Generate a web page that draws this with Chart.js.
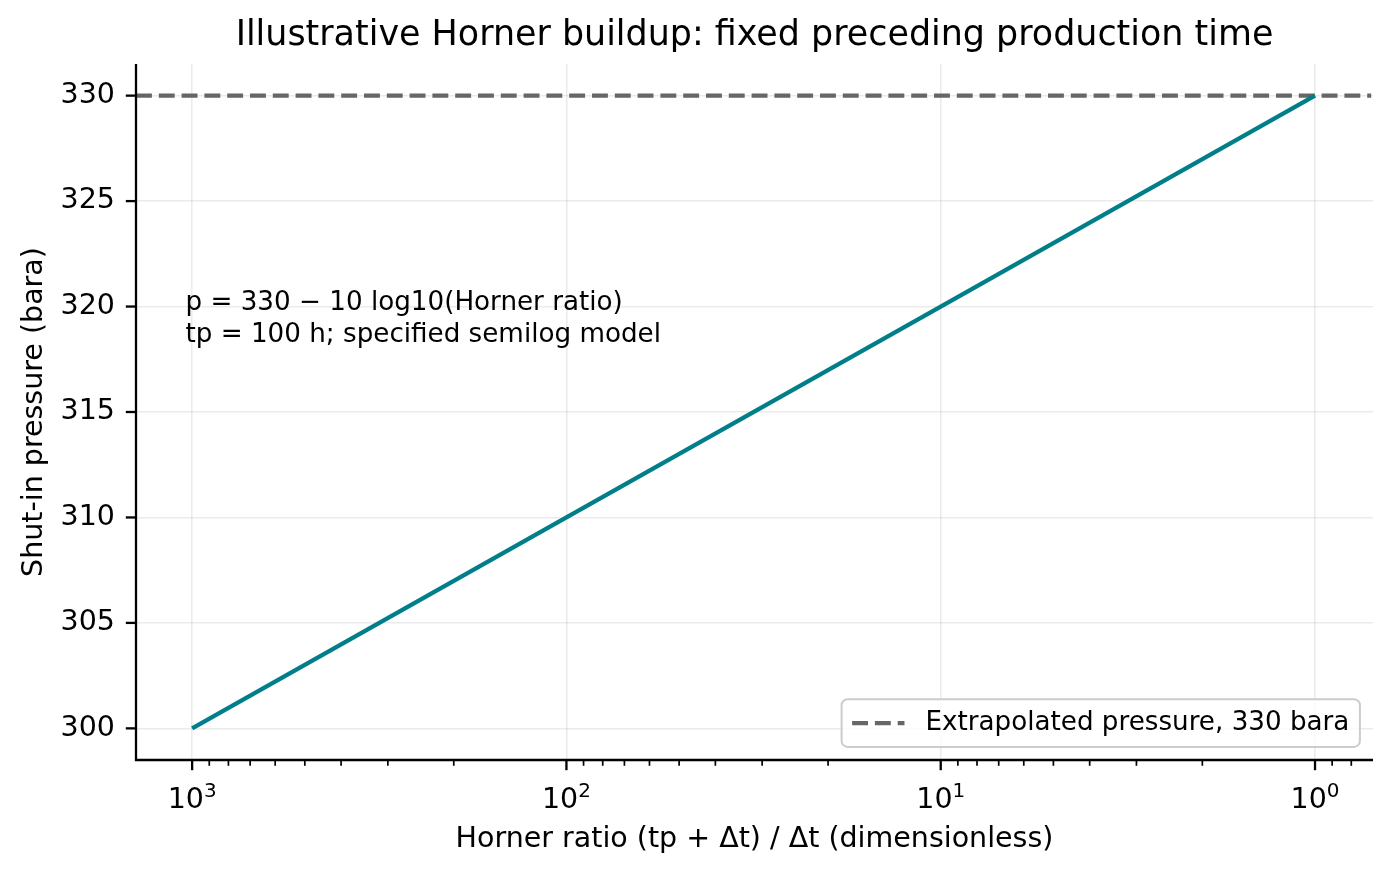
<!DOCTYPE html>
<html>
<head>
<meta charset="utf-8">
<script src="https://cdn.jsdelivr.net/npm/chart.js@4.4.1/dist/chart.umd.min.js"></script>
<style>
  html, body { margin: 0; padding: 0; background: #fff; }
  #wrap { width: 1394px; height: 878px; }
</style>
</head>
<body>
<div id="wrap"><canvas id="grafico"></canvas></div>
<script>
// dados
const horner_ratio = [1000, 100, 10, 1];
const pressao = [300, 310, 320, 330];
const p_extrapolada = 330;

// limites dos eixos (margem de 5% do matplotlib)
const x_min = 0.708;
const x_max = 1412.5;
const y_min = 298.5;
const y_max = 331.5;
const y_ticks = [300, 305, 310, 315, 320, 325, 330];
const x_major = [1000, 100, 10, 1];
const x_ticks = [0.8, 0.9, 1, 2, 3, 4, 5, 6, 7, 8, 9, 10, 20, 30, 40, 50, 60, 70, 80, 90,
  100, 200, 300, 400, 500, 600, 700, 800, 900, 1000];

const titulo = "Illustrative Horner buildup: fixed preceding production time";
const texto_nota = ["p = 330 \u2212 10 log10(Horner ratio)", "tp = 100 h; specified semilog model"];
const legenda_txt = "Extrapolated pressure, 330 bara";

const FONTE = "'DejaVu Sans', sans-serif";
const TAM = 28.5; // ticks e rótulos
const cor_linha = "#007f8a";
const cor_tracejado = "#666666";

function isMajor(v) {
  return x_major.indexOf(v) >= 0;
}

// desenha titulo, ticks, nota e legenda por cima
const extras = {
  id: "extras",
  afterDraw(chart) {
    const ctx = chart.ctx;
    const a = chart.chartArea;
    const xs = chart.scales.x;
    const ys = chart.scales.y;
    ctx.save();

    // spines esquerda e baixo
    ctx.strokeStyle = "#000";
    ctx.lineWidth = 2.3;
    ctx.beginPath();
    ctx.moveTo(a.left, a.top);
    ctx.lineTo(a.left, a.bottom);
    ctx.lineTo(a.right, a.bottom);
    ctx.stroke();

    // ticks eixo x + rótulos 10^n
    xs.ticks.forEach((t) => {
      const px = xs.getPixelForValue(t.value);
      const maj = isMajor(t.value);
      ctx.lineWidth = maj ? 2.3 : 1.7;
      ctx.beginPath();
      ctx.moveTo(px, a.bottom);
      ctx.lineTo(px, a.bottom + (maj ? 10.2 : 5.8));
      ctx.stroke();
      if (maj) {
        const ex = String(Math.round(Math.log10(t.value)));
        ctx.font = TAM + "px " + FONTE;
        const w1 = ctx.measureText("10").width;
        ctx.font = (TAM * 0.7) + "px " + FONTE;
        const w2 = ctx.measureText(ex).width;
        const x0 = px - (w1 + w2) / 2;
        ctx.fillStyle = "#000";
        ctx.textAlign = "left";
        ctx.textBaseline = "alphabetic";
        ctx.font = TAM + "px " + FONTE;
        ctx.fillText("10", x0, a.bottom + 48);
        ctx.font = (TAM * 0.7) + "px " + FONTE;
        ctx.fillText(ex, x0 + w1, a.bottom + 37);
      }
    });
    // ticks eixo y
    ctx.lineWidth = 2.3;
    ys.ticks.forEach((t) => {
      const py = ys.getPixelForValue(t.value);
      ctx.beginPath();
      ctx.moveTo(a.left, py);
      ctx.lineTo(a.left - 10.2, py);
      ctx.stroke();
    });

    // titulo
    ctx.fillStyle = "#000";
    ctx.font = "34.9px " + FONTE;
    ctx.textAlign = "center";
    ctx.textBaseline = "middle";
    ctx.fillText(titulo, (a.left + a.right) / 2, 36);

    // nota
    const fs = 26.2;
    ctx.font = fs + "px " + FONTE;
    ctx.textAlign = "left";
    const nx = a.left + 0.04 * (a.right - a.left);
    ctx.fillText(texto_nota[0], nx, 303);
    ctx.fillText(texto_nota[1], nx, 335);

    // legenda
    const tw = ctx.measureText(legenda_txt).width;
    const bw = 0.4 * fs + 2 * fs + 0.8 * fs + tw + 0.4 * fs;
    const bh = 47.6;
    const bx = a.right - 0.5 * fs - bw;
    const by = a.bottom - 0.5 * fs - bh;
    ctx.fillStyle = "rgba(255,255,255,0.8)";
    ctx.strokeStyle = "#cccccc";
    ctx.lineWidth = 2;
    ctx.beginPath();
    ctx.roundRect(bx, by, bw, bh, 6);
    ctx.fill();
    ctx.stroke();
    const ly = by + bh / 2;
    ctx.strokeStyle = cor_tracejado;
    ctx.lineWidth = 4.3;
    ctx.setLineDash([15.9, 6.9]);
    ctx.beginPath();
    ctx.moveTo(bx + 0.4 * fs, ly);
    ctx.lineTo(bx + 2.4 * fs, ly);
    ctx.stroke();
    ctx.setLineDash([]);
    ctx.fillStyle = "#000";
    ctx.fillText(legenda_txt, bx + 3.2 * fs, ly);

    ctx.restore();
  },
};

const config = {
  type: "line",
  data: {
    datasets: [
      {
        label: "Horner",
        data: horner_ratio.map((h, i) => ({ x: h, y: pressao[i] })),
        borderColor: cor_linha,
        borderWidth: 4.3,
        pointRadius: 0,
        tension: 0,
      },
      {
        label: legenda_txt,
        data: [{ x: x_max, y: p_extrapolada }, { x: x_min, y: p_extrapolada }],
        borderColor: cor_tracejado,
        borderWidth: 4.3,
        borderDash: [15.9, 6.9],
        pointRadius: 0,
      },
    ],
  },
  options: {
    responsive: false,
    animation: false,
    devicePixelRatio: 1,
    layout: { padding: { top: 64, right: 21, left: 0, bottom: 0 } },
    plugins: { legend: { display: false }, title: { display: false }, tooltip: { enabled: false } },
    scales: {
      x: {
        type: "logarithmic",
        reverse: true,
        min: x_min,
        max: x_max,
        afterBuildTicks: (s) => { s.ticks = x_ticks.map((v) => ({ value: v })); },
        afterFit: (s) => { s.height = 118; },
        border: { display: false },
        grid: {
          drawTicks: false,
          lineWidth: 1.6,
          color: (c) => (c.tick && isMajor(c.tick.value) ? "rgba(0,0,0,0.08)" : "rgba(0,0,0,0)"),
        },
        ticks: {
          autoSkip: false,
          maxRotation: 0,
          font: { family: FONTE, size: TAM },
          callback: () => "",
        },
        title: {
          display: true,
          text: "Horner ratio (tp + \u0394t) / \u0394t (dimensionless)",
          color: "#000",
          font: { family: FONTE, size: TAM },
          padding: { top: 0, bottom: 21 },
        },
      },
      y: {
        type: "linear",
        min: y_min,
        max: y_max,
        afterBuildTicks: (s) => { s.ticks = y_ticks.map((v) => ({ value: v })); },
        afterFit: (s) => { s.width = 136; },
        border: { display: false },
        grid: { drawTicks: false, lineWidth: 1.6, color: "rgba(0,0,0,0.08)" },
        ticks: {
          padding: 21,
          color: "#000",
          font: { family: FONTE, size: TAM },
        },
        title: {
          display: true,
          text: "Shut-in pressure (bara)",
          color: "#000",
          font: { family: FONTE, size: TAM },
          padding: { top: 17, bottom: 0 },
        },
      },
    },
  },
  plugins: [extras],
};

const cv = document.getElementById("grafico");
cv.width = 1394;
cv.height = 878;
new Chart(cv, config);
</script>
</body>
</html>
